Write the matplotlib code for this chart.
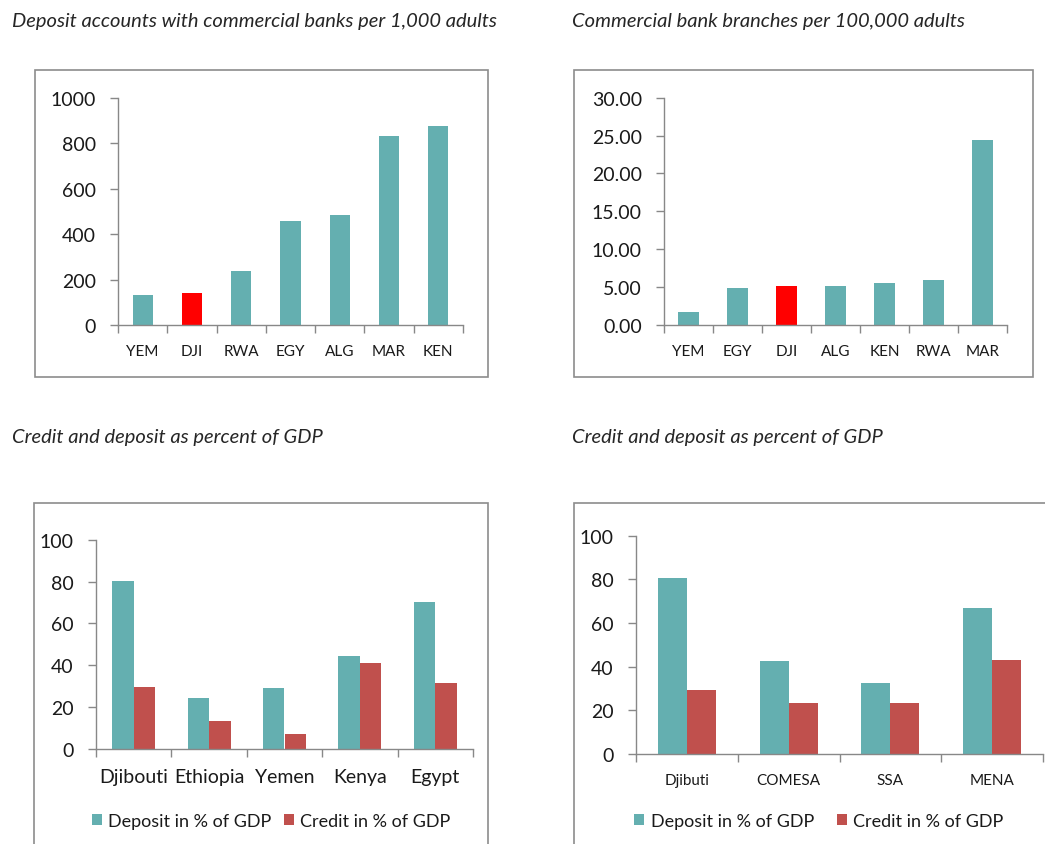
import numpy as np
import matplotlib
matplotlib.use("Agg")
import matplotlib.pyplot as plt
from matplotlib.patches import Rectangle
from matplotlib.ticker import FixedLocator, FormatStrFormatter

plt.rcParams['font.family'] = ['Lato', 'DejaVu Sans']

# --- data ---
acc_labels = ['YEM', 'DJI', 'RWA', 'EGY', 'ALG', 'MAR', 'KEN']
acc_values = [132, 139, 239, 457, 484, 830, 874]

br_labels = ['YEM', 'EGY', 'DJI', 'ALG', 'KEN', 'RWA', 'MAR']
br_values = [1.76, 4.84, 5.19, 5.15, 5.58, 5.98, 24.37]

cty_labels = ['Djibouti', 'Ethiopia', 'Yemen', 'Kenya', 'Egypt']
cty_deposit = [80.1, 24.5, 29.1, 44.4, 70.4]
cty_credit = [29.8, 13.5, 7.2, 40.9, 31.4]

reg_labels = ['Djibuti', 'COMESA', 'SSA', 'MENA']
reg_deposit = [80.5, 42.4, 32.4, 66.7]
reg_credit = [29.5, 23.4, 23.5, 43.1]

TEAL = '#64AFB0'
RED = '#FF0000'
CREDIT = '#C0504D'
AXIS = '#888888'
TEXT = '#1a1a1a'

W, H = 1045, 845
fig = plt.figure(figsize=(W / 100, H / 100), dpi=100)


def px_rect(x0, y0, x1, y1):
    # pixel box (top-left origin) -> figure fraction rect
    return [x0 / W, 1 - y1 / H, (x1 - x0) / W, (y1 - y0) / H]


def frame(x0, y0, x1, y1):
    r = Rectangle((x0 / W, 1 - y1 / H), (x1 - x0) / W, (y1 - y0) / H,
                  transform=fig.transFigure, fill=False, ec='#8c8c8c', lw=1.2)
    fig.add_artist(r)


def style_axes(ax, n, labels, ylim, yticks, lab_size, fmt=None):
    for s in ['top', 'right']:
        ax.spines[s].set_visible(False)
    for s in ['left', 'bottom']:
        ax.spines[s].set_color(AXIS)
        ax.spines[s].set_linewidth(1.0)
    ax.set_xlim(-0.5, n - 0.5)
    ax.set_ylim(*ylim)
    ax.set_yticks(yticks)
    if fmt:
        ax.yaxis.set_major_formatter(FormatStrFormatter(fmt))
    ax.tick_params(axis='y', length=6, width=1.0, color=AXIS, pad=10,
                   labelsize=14, labelcolor=TEXT)
    ax.set_xticks(np.arange(n))
    ax.set_xticklabels(labels)
    ax.xaxis.set_minor_locator(FixedLocator(np.arange(n + 1) - 0.5))
    ax.tick_params(axis='x', which='major', length=0, pad=14,
                   labelsize=lab_size, labelcolor=TEXT)
    ax.tick_params(axis='x', which='minor', length=6, width=1.0, color=AXIS)


title_kw = dict(fontsize=14.5, style='italic', color='#262626', va='center')

# deposit accounts per 1,000 adults
frame(35, 71, 488, 378)
fig.text(12 / W, 1 - 21 / H, 'Deposit accounts with commercial banks per 1,000 adults', **title_kw)
ax1 = fig.add_axes(px_rect(118, 98.7, 463, 326))
x = np.arange(len(acc_labels))
ax1.bar(x, acc_values, width=0.41,
        color=[RED if c == 'DJI' else TEAL for c in acc_labels])
style_axes(ax1, len(acc_labels), acc_labels, (0, 1000), range(0, 1001, 200), 11)

# bank branches per 100,000 adults
frame(574, 71, 1033, 378)
fig.text(572 / W, 1 - 21 / H, 'Commercial bank branches per 100,000 adults', **title_kw)
ax2 = fig.add_axes(px_rect(664, 98.7, 1007, 326))
x = np.arange(len(br_labels))
ax2.bar(x, br_values, width=0.41,
        color=[RED if c == 'DJI' else TEAL for c in br_labels])
style_axes(ax2, len(br_labels), br_labels, (0, 30), np.arange(0, 31, 5), 11, '%.2f')

# credit and deposit, countries
frame(34, 504, 488, 900)
fig.text(12 / W, 1 - 438 / H, 'Credit and deposit as percent of GDP', **title_kw)
ax3 = fig.add_axes(px_rect(96, 540.7, 473, 750))
x = np.arange(len(cty_labels))
bw = 0.285
b1 = ax3.bar(x - bw / 2, cty_deposit, width=bw, color=TEAL, label='Deposit in % of GDP')
b2 = ax3.bar(x + bw / 2, cty_credit, width=bw, color=CREDIT, label='Credit in % of GDP')
style_axes(ax3, len(cty_labels), cty_labels, (0, 100), range(0, 101, 20), 14)
fig.legend(handles=[b1, b2], loc='center', bbox_to_anchor=(271 / W, 1 - 822 / H),
           ncol=2, frameon=False, fontsize=13, handlelength=0.55, handleheight=0.55,
           handletextpad=0.35, columnspacing=0.7, labelcolor=TEXT)

# credit and deposit, regions
frame(574, 504, 1100, 900)
fig.text(572 / W, 1 - 438 / H, 'Credit and deposit as percent of GDP', **title_kw)
ax4 = fig.add_axes(px_rect(636, 536.7, 1043, 755))
x = np.arange(len(reg_labels))
b1 = ax4.bar(x - bw / 2, reg_deposit, width=bw, color=TEAL, label='Deposit in % of GDP')
b2 = ax4.bar(x + bw / 2, reg_credit, width=bw, color=CREDIT, label='Credit in % of GDP')
style_axes(ax4, len(reg_labels), reg_labels, (0, 100), range(0, 101, 20), 11)
fig.legend(handles=[b1, b2], loc='center', bbox_to_anchor=(819 / W, 1 - 822 / H),
           ncol=2, frameon=False, fontsize=13, handlelength=0.55, handleheight=0.55,
           handletextpad=0.35, columnspacing=1.3, labelcolor=TEXT)

fig.savefig('out.png', dpi=100)
